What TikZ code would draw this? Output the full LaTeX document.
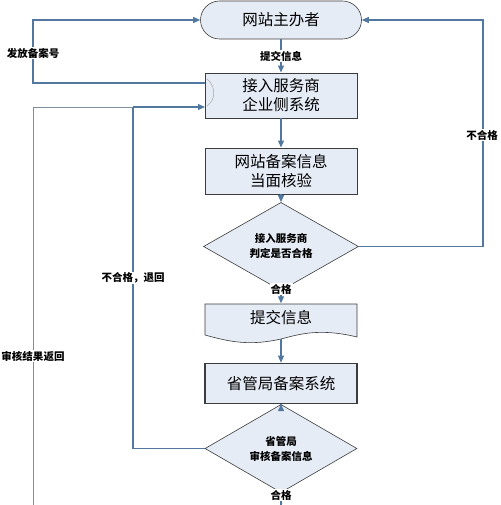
\documentclass[tikz,border=0pt]{standalone}
\usepackage{fontspec}
\setmainfont{Noto Sans CJK SC}
\usetikzlibrary{shapes.geometric,arrows.meta}
\definecolor{fillc}{HTML}{E6ECF6}
\definecolor{edgec}{HTML}{3C3C3C}
\definecolor{linec}{HTML}{52789F}
\definecolor{linec2}{HTML}{7D8E9F}
\tikzset{
  box/.style={draw=edgec,fill=fillc,minimum width=152pt,inner sep=0pt,align=center,font=\fontsize{15.5}{19}\selectfont,line width=0.9pt},
  dia/.style={diamond,draw=edgec,fill=fillc,inner sep=0pt,align=center,font=\bfseries\fontsize{10.5}{15}\selectfont,line width=0.6pt},
  conn/.style={draw=linec,line width=1.1pt,-{Triangle[length=7pt,width=6pt]}},
  plain/.style={draw=linec,line width=1.1pt},
  lbl/.style={fill=white,inner sep=1pt,font=\bfseries\fontsize{10.5}{12}\selectfont}
}
\begin{document}
\begin{tikzpicture}[x=1pt,y=-1pt]
\useasboundingbox (0,0) rectangle (500,505);
\node[draw=edgec,fill=fillc,rounded corners=19pt,minimum width=161pt,minimum height=38pt,font=\fontsize{15.5}{19}\selectfont,line width=0.6pt] (term) at (281,20) {网站主办者};
\node[box,minimum height=45pt] (b1) at (281,95.5) {接入服务商\\企业侧系统};
\node[box,minimum height=46pt] (b2) at (281,171) {网站备案信息\\当面核验};
\node[dia,minimum width=155pt,minimum height=55pt] (d1) at (281,246.5) {接入服务商\\判定是否合格};
\node[minimum width=152pt,minimum height=32pt,inner sep=0pt,font=\fontsize{15.5}{19}\selectfont] (doc) at (281,319.5) {};
\fill[fillc] (205,304) -- (357,304) -- (357,337) .. controls (320,328) and (300,334) .. (281,339) .. controls (250,346) and (230,342) .. (205,335) -- cycle;
\draw[edgec,line width=0.6pt] (205,304) -- (357,304) -- (357,337) .. controls (320,328) and (300,334) .. (281,339) .. controls (250,346) and (230,342) .. (205,335) -- cycle;
\node[font=\fontsize{15.5}{19}\selectfont] at (281,318) {提交信息};
\node[box,minimum height=40pt,line width=1.6pt] (b3) at (281,383.5) {省管局备案系统};
\node[dia,minimum width=152pt,minimum height=54pt] (d2) at (281,448.5) {省管局\\审核备案信息};
\coordinate (docb) at (281,339);
\coordinate (b1a) at (205,83);
\coordinate (b1b) at (205,107);
\coordinate (la) at (33,83);
\coordinate (lb) at (33,20);
\coordinate (ra) at (483,246.5);
\coordinate (rb) at (483,20);
\coordinate (ma) at (133,448.5);
\coordinate (mb) at (133,107);
\coordinate (oa) at (33,505);
\coordinate (ob) at (33,107);
\coordinate (bot) at (281,505);
% connectors
\draw[conn] (term.south) -- (b1.north);
\draw[conn] (b1a) -- (la) -- (lb) -- (term.west);
\draw[conn] (d1.east) -- (ra) -- (rb) -- (term.east);
\draw[conn] (b1.south) -- (b2.north);
\draw[conn] (b2.south) -- (d1.north);
\draw[conn] (d1.south) -- (doc.north);
\draw[conn] (docb) -- (b3.north);
\draw[conn] (b3.south) -- (d2.north);
\draw[plain] (d2.west) -- (ma) -- (mb);
\draw[draw=linec2,line width=0.8pt] (oa) -- (ob) -- (mb);
\draw[conn] (mb) -- (b1b);
\draw[plain] (d2.south) -- (bot);
\draw[gray!70,line width=0.5pt] (207,79) .. controls (216,86) and (216,100) .. (207,106);
% labels
\node[lbl] at (281,56) {提交信息};
\node[lbl] at (33,53) {发放备案号};
\node[lbl] at (482,135) {不合格};
\node[lbl] at (281,289) {合格};
\node[lbl] at (133,278) {不合格，退回};
\node[lbl] at (33,356) {审核结果返回};
\node[lbl] at (281,495) {合格};
\end{tikzpicture}
\end{document}
